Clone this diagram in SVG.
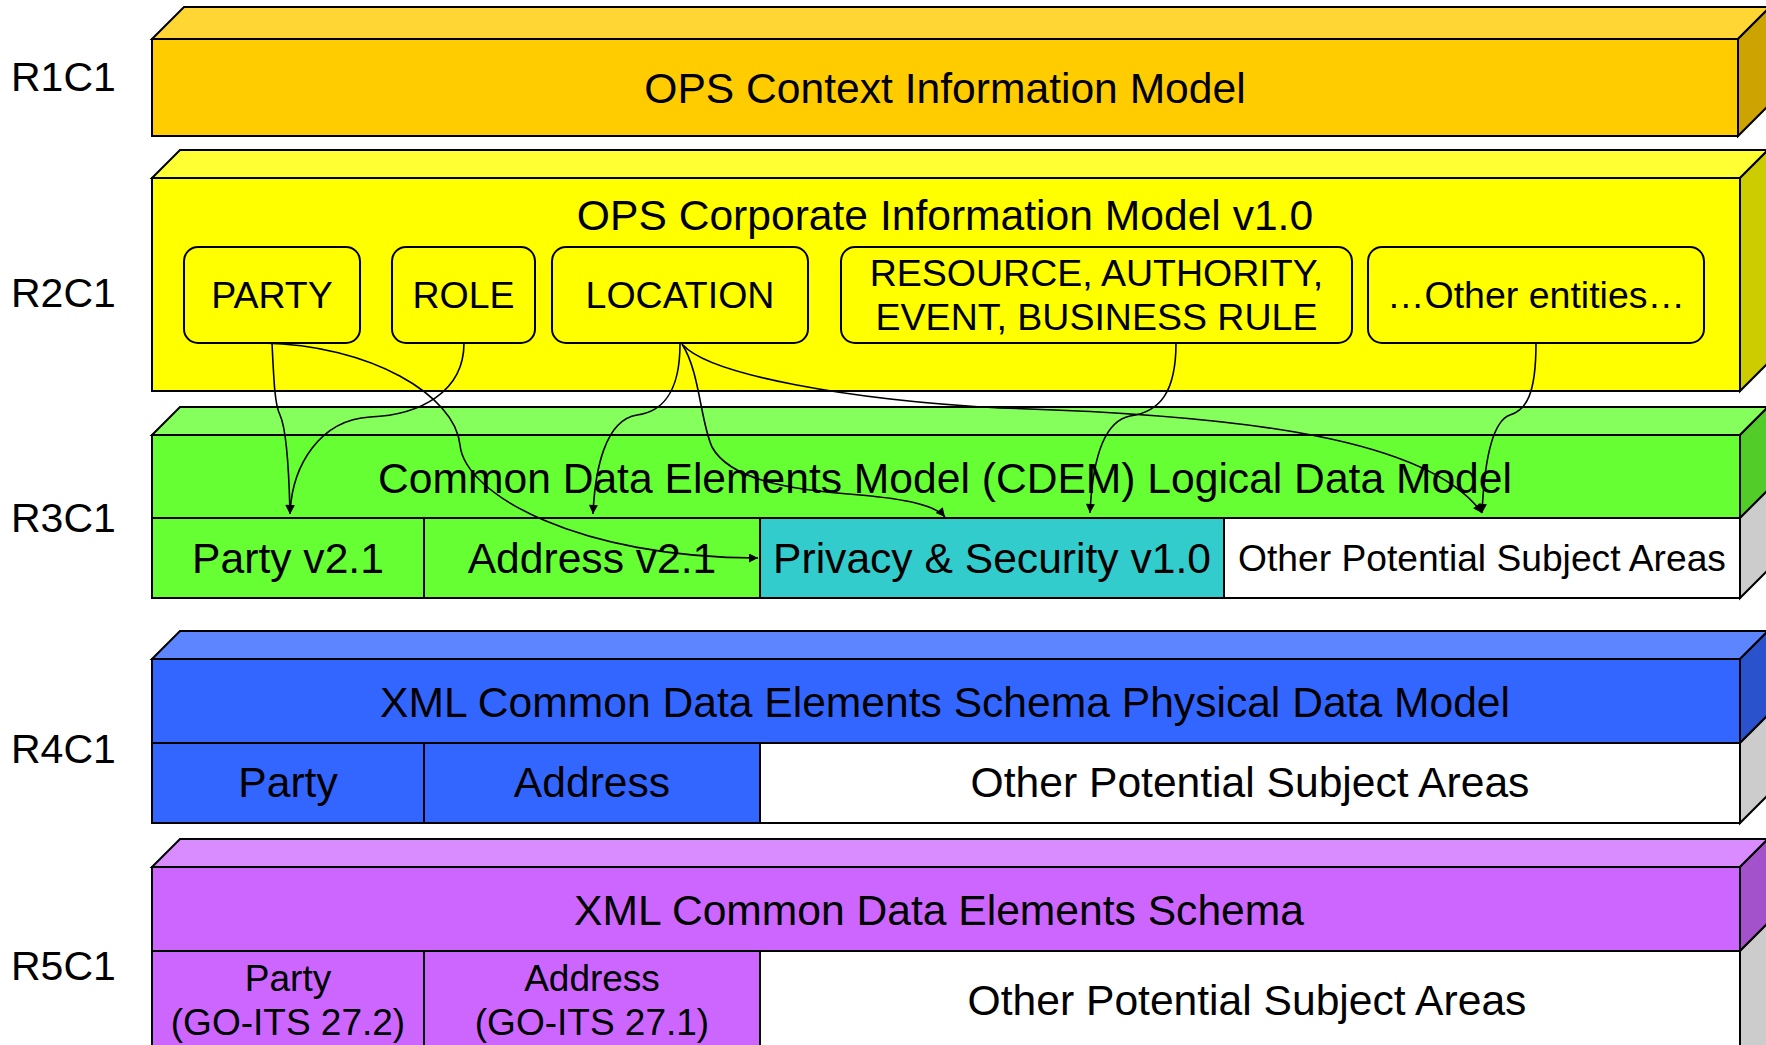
<svg xmlns="http://www.w3.org/2000/svg" width="1766" height="1045" viewBox="0 0 1766 1045">
<style>
text{font-family:"Liberation Sans",Arial,Helvetica,sans-serif;fill:#000}
.lbl{font-size:41px}
.t{font-size:42.6px;text-anchor:middle}
.e{font-size:37.5px;text-anchor:middle}
.p{font-size:37px;text-anchor:middle}
.s{font-size:37.2px;text-anchor:middle}
.b{stroke:#000;stroke-width:2;stroke-linejoin:miter}
.ent{fill:#FFFF00;stroke:#000;stroke-width:2}
.grey{fill:#CCCCCC}
.white{fill:#FFFFFF}
.c{fill:none;stroke:#000;stroke-width:1.6}
</style>
<defs>
<marker id="arr" viewBox="0 0 10 10" refX="10" refY="5" markerWidth="12" markerHeight="9" markerUnits="userSpaceOnUse" orient="auto">
<path d="M0,0 L10,5 L0,10 z" fill="#000"/>
</marker>
</defs>
<rect width="1766" height="1045" fill="#FFFFFF"/>

<g id="labels">
<text class="lbl" x="11" y="91">R1C1</text>
<text class="lbl" x="11" y="307">R2C1</text>
<text class="lbl" x="11" y="532">R3C1</text>
<text class="lbl" x="11" y="763">R4C1</text>
<text class="lbl" x="11" y="980">R5C1</text>
</g>

<g id="r1">
<polygon class="b" fill="#FFD633" points="152,39 184,7 1770,7 1738,39"/>
<polygon class="b" fill="#CCA300" points="1738,39 1770,7 1770,104 1738,136"/>
<rect class="b" fill="#FFCC00" x="152" y="39" width="1586" height="97"/>
<text class="t" x="945" y="103">OPS Context Information Model</text>
</g>

<g id="r2">
<polygon class="b" fill="#FFFF33" points="152,178 180,150 1768,150 1740,178"/>
<polygon class="b" fill="#CCCC00" points="1740,178 1768,150 1768,363 1740,391"/>
<rect class="b" fill="#FFFF00" x="152" y="178" width="1588" height="213"/>
<text class="t" x="945" y="230">OPS Corporate Information Model v1.0</text>
</g>

<g id="party-entity">
<rect class="ent" x="184" y="247" width="176" height="96" rx="14"/>
<text class="e" x="272" y="308">PARTY</text>
</g>
<g id="role-entity">
<rect class="ent" x="392" y="247" width="143" height="96" rx="14"/>
<text class="e" x="463.5" y="308">ROLE</text>
</g>
<g id="location-entity">
<rect class="ent" x="552" y="247" width="256" height="96" rx="14"/>
<text class="e" x="680" y="308">LOCATION</text>
</g>
<g id="resource-entity">
<rect class="ent" x="841" y="247" width="511" height="96" rx="14"/>
<text class="e" x="1096.5" y="286">RESOURCE, AUTHORITY,</text>
<text class="e" x="1096.5" y="330">EVENT, BUSINESS RULE</text>
</g>
<g id="other-entity">
<rect class="ent" x="1368" y="247" width="336" height="96" rx="14"/>
<text class="e" x="1536" y="308">…Other entities…</text>
</g>

<g id="r3">
<polygon class="b" fill="#85FF5C" points="152,435 180,407 1768,407 1740,435"/>
<polygon class="b" fill="#52CC29" points="1740,435 1768,407 1768,490 1740,518"/>
<polygon class="b grey" points="1740,518 1768,490 1768,570 1740,598"/>
<rect class="b" fill="#66FF33" x="152" y="435" width="1588" height="83"/>
<text class="t" x="945" y="493">Common Data Elements Model (CDEM) Logical Data Model</text>
</g>
<g id="r3-party">
<rect class="b" fill="#66FF33" x="152" y="518" width="272" height="80"/>
<text class="t" x="288" y="573">Party v2.1</text>
</g>
<g id="r3-address">
<rect class="b" fill="#66FF33" x="424" y="518" width="336" height="80"/>
<text class="t" x="592" y="573">Address v2.1</text>
</g>
<g id="r3-privacy">
<rect class="b" fill="#33CCCC" x="760" y="518" width="464" height="80"/>
<text class="t" x="992" y="573">Privacy &amp; Security v1.0</text>
</g>
<g id="r3-other">
<rect class="b white" x="1224" y="518" width="516" height="80"/>
<text class="s" x="1482" y="571">Other Potential Subject Areas</text>
</g>

<g id="r4">
<polygon class="b" fill="#5C85FF" points="152,659 180,631 1768,631 1740,659"/>
<polygon class="b" fill="#2952CC" points="1740,659 1768,631 1768,715 1740,743"/>
<polygon class="b grey" points="1740,743 1768,715 1768,795 1740,823"/>
<rect class="b" fill="#3366FF" x="152" y="659" width="1588" height="84"/>
<text class="t" x="945" y="717">XML Common Data Elements Schema Physical Data Model</text>
</g>
<g id="r4-party">
<rect class="b" fill="#3366FF" x="152" y="743" width="272" height="80"/>
<text class="t" x="288" y="797">Party</text>
</g>
<g id="r4-address">
<rect class="b" fill="#3366FF" x="424" y="743" width="336" height="80"/>
<text class="t" x="592" y="797">Address</text>
</g>
<g id="r4-other">
<rect class="b white" x="760" y="743" width="980" height="80"/>
<text class="t" x="1250" y="797">Other Potential Subject Areas</text>
</g>

<g id="r5">
<polygon class="b" fill="#D98CFF" points="152,867 180,839 1768,839 1740,867"/>
<polygon class="b" fill="#A352CC" points="1740,867 1768,839 1768,923 1740,951"/>
<polygon class="b grey" points="1740,951 1768,923 1768,1060 1740,1080"/>
<rect class="b" fill="#CC66FF" x="152" y="867" width="1588" height="84"/>
<text class="t" x="939" y="925">XML Common Data Elements Schema</text>
</g>
<g id="r5-party">
<rect class="b" fill="#CC66FF" x="152" y="951" width="272" height="120"/>
<text class="p" x="288" y="991">Party</text>
<text class="p" x="288" y="1035">(GO-ITS 27.2)</text>
</g>
<g id="r5-address">
<rect class="b" fill="#CC66FF" x="424" y="951" width="336" height="120"/>
<text class="p" x="592" y="991">Address</text>
<text class="p" x="592" y="1035">(GO-ITS 27.1)</text>
</g>
<g id="r5-other">
<rect class="b white" x="760" y="951" width="980" height="120"/>
<text class="t" x="1247" y="1015">Other Potential Subject Areas</text>
</g>

<g id="connectors">
<path class="c" marker-end="url(#arr)" d="M272,343 C274,385 275,405 280,415 C286,428 289,470 290,514"/>
<path class="c" marker-end="url(#arr)" d="M464,343 C464,392 420,415 370,417 C320,420 292,465 290,514"/>
<path class="c" marker-end="url(#arr)" d="M263,343 C370,345 455,395 460,445 C465,495 580,558 758,558"/>
<path class="c" marker-end="url(#arr)" d="M680,344 C680,392 662,412 637,415 C605,420 595,470 593,514"/>
<path class="c" marker-end="url(#arr)" d="M682,344 C700,372 700,420 712,447 C730,480 790,490 860,495 C905,499 935,505 945,517"/>
<path class="c" marker-end="url(#arr)" d="M683,345 C710,375 850,400 1000,408 C1250,415 1430,440 1482,513"/>
<path class="c" marker-end="url(#arr)" d="M1176,343 C1176,392 1160,412 1130,416 C1100,422 1092,470 1090,513"/>
<path class="c" marker-end="url(#arr)" d="M1536,343 C1536,395 1526,410 1510,415 C1490,422 1484,470 1482,513"/>
</g>
</svg>
